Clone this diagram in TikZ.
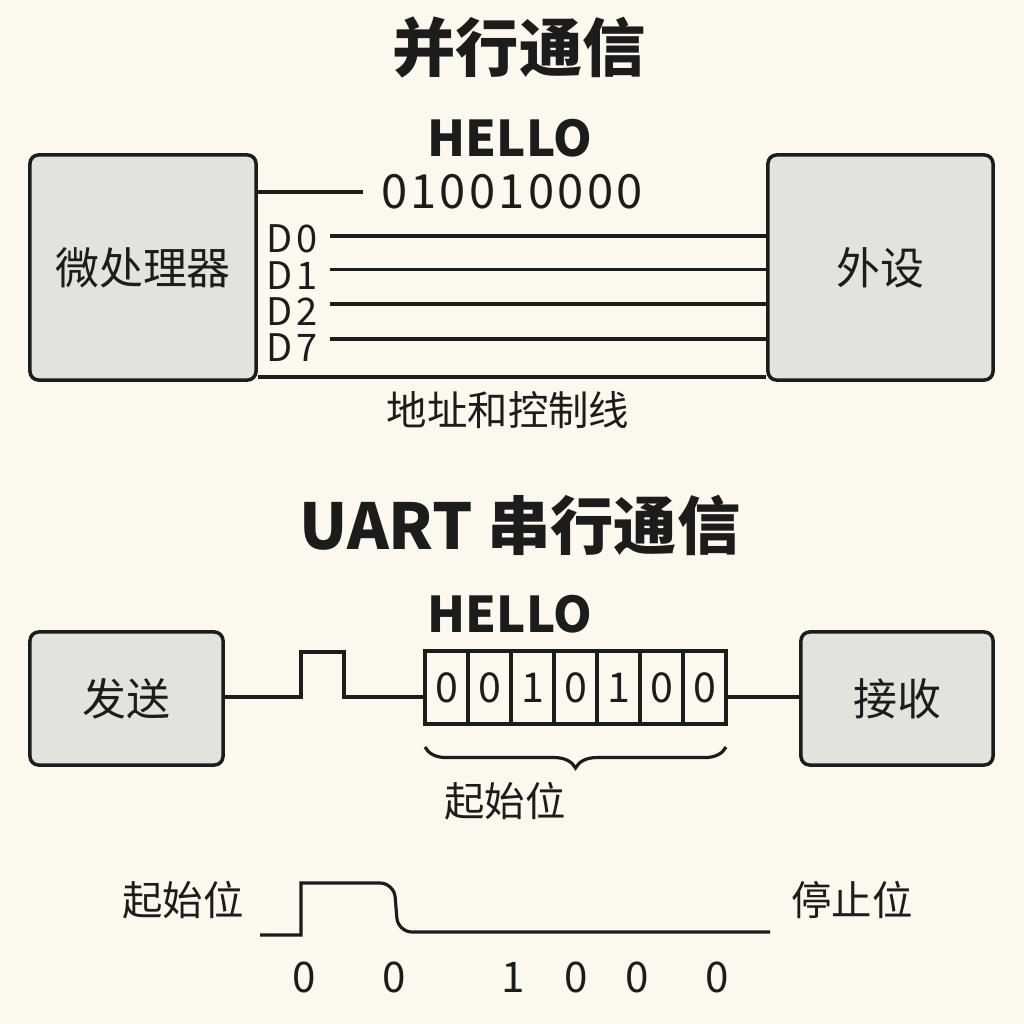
\documentclass[tikz,border=0pt]{standalone}
\usepackage{fontspec}
\setmainfont{Noto Sans CJK SC}
\usepackage{xcolor}
\usetikzlibrary{decorations.pathreplacing}
\definecolor{paper}{HTML}{FBF8EE}
\definecolor{boxgrey}{HTML}{E2E2DF}
\definecolor{ink}{HTML}{1C1C1C}
\tikzstyle{mybox} = [draw=ink, fill=boxgrey, line width=1pt,
    rectangle, rounded corners=2.5pt, inner sep=0pt, text=ink,
    font=\fontsize{12.5}{12.5}\selectfont]
\tikzstyle{bigtitle} = [text=ink, font=\fontsize{18}{18}\selectfont\bfseries]
\tikzstyle{wordtitle} = [text=ink, font=\fontsize{14}{14}\selectfont\bfseries]
\tikzstyle{smalllabel} = [text=ink, font=\fontsize{11.5}{11.5}\selectfont]
\tikzstyle{dlabel} = [text=ink, inner sep=0pt,
    font=\fontsize{10.8}{10.8}\selectfont\addfontfeature{LetterSpace=10}]
\tikzstyle{bitstring} = [text=ink, inner sep=5pt,
    font=\fontsize{13.4}{13.4}\selectfont\addfontfeature{LetterSpace=7}]
\tikzstyle{bitcell} = [draw=ink, line width=0.9pt, rectangle, minimum width=0.43cm,
    minimum height=0.73cm, inner sep=0pt, outer sep=0pt, text=ink,
    font=\fontsize{11.7}{11.7}\selectfont]
\tikzstyle{bitdigit} = [text=ink, font=\fontsize{12}{12}\selectfont]
\tikzstyle{wire} = [draw=ink, line width=0.9pt]

\begin{document}
\begin{tikzpicture}[x=0.01cm, y=-0.01cm]
\fill[paper] (0,0) rectangle (1024,1024);
\useasboundingbox (0,0) rectangle (1024,1024);

\node[bigtitle] (partitle) at (519,48) {并行通信};
\node[wordtitle] (hello1) at (510,138) {HELLO};
\node[mybox, minimum width=2.26cm, minimum height=2.25cm] (cpu) at (143,267.5) {微处理器};
\node[mybox, minimum width=2.25cm, minimum height=2.25cm] (dev) at (880.5,267.5) {外设};
\node[bitstring] (bits) at (512,192) {010010000};
\draw[wire] (cpu.east |- bits.west) -- (bits.west);
\foreach \name/\y/\ly in {D0/236/239, D1/269.3/275.5, D2/304/312, D7/339/348}{
    \node[dlabel, anchor=west] (l\name) at (266,\ly) {\name};
    \coordinate (w\name) at (330,\y);
    \draw[wire] (w\name) -- (w\name -| dev.west);
}
\draw[wire] (cpu.east |- 0,377) -- (dev.west |- 0,377);
\node[smalllabel] (ctrl) at (508,410) {地址和控制线};

\node[bigtitle] (sertitle) at (520,525) {UART 串行通信};
\node[wordtitle] (hello2) at (510,614) {HELLO};
\node[mybox, minimum width=1.93cm, minimum height=1.33cm] (tx) at (126.5,698.5) {发送};
\node[mybox, minimum width=1.92cm, minimum height=1.33cm] (rx) at (897,698.5) {接收};
\foreach \b [count=\i] in {0,0,1,0,1,0,0}
    \node[bitcell] (c\i) at ({403.5+43*\i},687.5) {\b};
\draw[wire] (tx.east |- 0,697) -- (301,697) -- (301,652) -- (344,652) -- (344,697) -- (c1.west |- 0,697);
\draw[wire] (c7.east |- 0,697) -- (rx.west |- 0,697);
\draw[wire, decorate, decoration={brace, mirror, amplitude=6pt}]
    (c1.south west |- 0,747) -- (c7.south east |- 0,747);
\node[smalllabel] (startlbl) at (505,801) {起始位};

\coordinate (ws) at (260,935);
\coordinate (we) at (770,932);
\draw[wire] (ws) -- (301,935) -- (301,883) [rounded corners=4pt] -- (394,883) -- (398,932) -- (we);
\node[smalllabel] (startbit) at (183,900) {起始位};
\node[smalllabel] (stopbit) at (852,900) {停止位};
\foreach \d/\x in {0/304, 0/394, 1/513, 0/576, 0/637, 0/717}
    \node[bitdigit] (n\x) at (\x,977) {\d};
\end{tikzpicture}
\end{document}
